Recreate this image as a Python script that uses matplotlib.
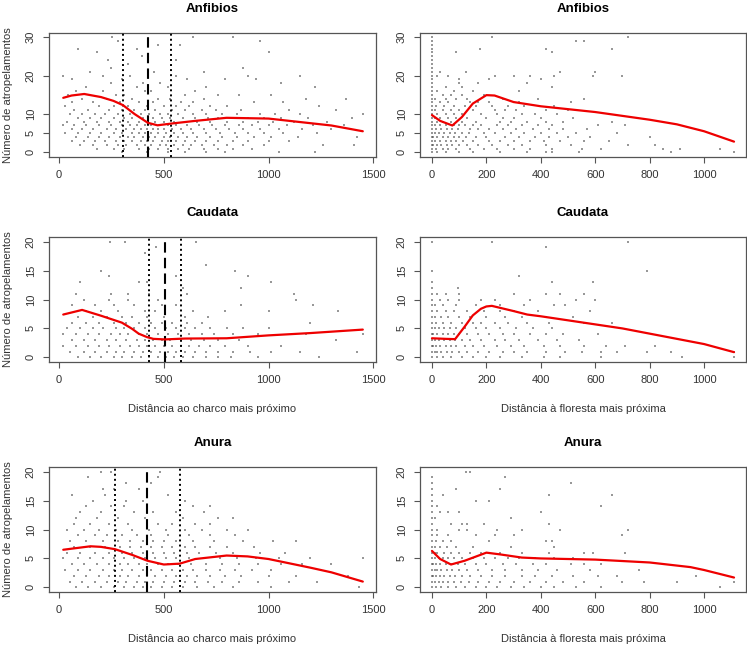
import matplotlib
matplotlib.use("Agg")
import matplotlib.pyplot as plt

plt.rcParams['font.family'] = ['Liberation Sans', 'DejaVu Sans']

# ---------------- data ----------------
titles = ["Anfibios", "Caudata", "Anura"]
xlabel_left = "Distância ao charco mais próximo"
xlabel_right = "Distância à floresta mais próxima"
ylabel = "Número de atropelamentos"

# scatter points grouped by count (y): list of x positions
pts_anf_charco = {
    30: [255, 640, 830], 29: [280, 960], 28: [470, 575], 27: [90, 370], 26: [180, 1000],
    25: [395], 24: [235, 560], 23: [330], 22: [250, 880], 21: [150, 455, 690],
    20: [20, 210, 340, 560, 900, 1150], 19: [60, 300, 610, 790, 940], 18: [250, 400, 480, 1060],
    17: [130, 370, 520, 700, 1220], 16: [80, 210, 410, 440, 650],
    15: [45, 270, 310, 600, 760, 860, 1010], 14: [110, 230, 350, 470, 530, 690, 1180, 1370],
    13: [60, 160, 290, 380, 450, 580, 640, 930, 1070],
    12: [30, 190, 260, 330, 420, 500, 560, 620, 720, 800, 1240],
    11: [70, 140, 240, 300, 360, 410, 460, 540, 600, 680, 750, 870, 1100, 1320],
    10: [50, 110, 170, 220, 280, 340, 390, 430, 480, 520, 570, 640, 700, 780, 850, 960, 1030, 1150, 1450],
    9: [90, 150, 200, 260, 310, 350, 400, 450, 490, 530, 590, 650, 710, 760, 830, 900, 980, 1060, 1190, 1400],
    8: [40, 120, 180, 240, 290, 330, 380, 420, 460, 500, 550, 600, 660, 720, 800, 880, 950, 1020, 1120, 1280],
    7: [20, 70, 130, 190, 250, 300, 340, 370, 410, 440, 480, 520, 560, 610, 670, 730, 790, 860, 920, 1000, 1090, 1210, 1360],
    6: [60, 110, 160, 230, 270, 320, 360, 390, 420, 450, 470, 500, 540, 580, 630, 690, 750, 810, 880, 960, 1050, 1160, 1300],
    5: [30, 90, 150, 200, 260, 300, 350, 380, 410, 440, 470, 510, 550, 590, 640, 700, 770, 840, 900, 980, 1070, 1230],
    4: [80, 140, 190, 240, 290, 330, 360, 400, 430, 460, 500, 530, 570, 610, 660, 720, 780, 850, 930, 1010, 1140, 1420],
    3: [60, 120, 170, 220, 270, 310, 350, 390, 420, 450, 490, 520, 560, 600, 650, 700, 760, 830, 900, 1000, 1100],
    2: [100, 160, 230, 280, 320, 370, 410, 440, 480, 510, 550, 590, 630, 680, 740, 800, 880, 980, 1260, 1410],
    1: [180, 260, 310, 380, 430, 470, 520, 570, 620, 690, 760, 830, 920],
    0: [300, 420, 520, 600, 700, 790, 1050, 1220],
}
pts_anf_floresta = {
    30: [0, 220, 720], 29: [0, 530, 560], 28: [0], 27: [0, 175, 420, 660], 26: [0, 90, 440],
    25: [0], 24: [0], 23: [0], 22: [0], 21: [0, 30, 125, 470, 600],
    20: [0, 20, 60, 230, 300, 360, 450, 590, 700], 19: [0, 100, 210, 400], 18: [0, 100, 170, 350],
    17: [0, 50, 110, 440], 16: [0, 20, 80, 150, 320], 15: [0, 40, 70, 110, 190],
    14: [0, 10, 50, 90, 130, 260, 390, 560], 13: [0, 30, 60, 140, 170, 210, 320, 510],
    12: [0, 15, 45, 80, 120, 160, 220, 280, 340, 450],
    11: [0, 10, 40, 70, 100, 150, 230, 270, 310, 420, 500],
    10: [0, 20, 50, 80, 110, 180, 240, 330, 380, 460],
    9: [0, 10, 30, 60, 90, 130, 200, 260, 300, 400, 520],
    8: [0, 20, 40, 70, 110, 160, 250, 290, 350, 420, 480, 660],
    7: [0, 10, 30, 50, 80, 100, 120, 150, 180, 240, 280, 330, 390, 440, 610, 710],
    6: [0, 15, 35, 55, 75, 95, 140, 170, 210, 260, 310, 370, 430, 480, 570],
    5: [0, 10, 25, 45, 65, 85, 110, 135, 190, 230, 290, 340, 400, 460, 530, 680],
    4: [0, 5, 20, 40, 60, 80, 100, 125, 160, 200, 270, 320, 380, 430, 500, 580, 800],
    3: [0, 10, 30, 50, 70, 90, 115, 150, 210, 250, 300, 360, 410, 470, 560, 650],
    2: [0, 5, 20, 35, 55, 75, 100, 130, 170, 220, 280, 330, 420, 510, 720, 820],
    1: [0, 15, 40, 60, 90, 140, 190, 240, 300, 360, 440, 550, 620, 850, 910, 1060],
    0: [0, 20, 50, 100, 150, 250, 350, 420, 440, 540, 880, 1110],
}
pts_cau_charco = {
    20: [245, 315, 655], 19: [465], 18: [410], 16: [700], 15: [200, 840], 14: [240, 560, 900],
    13: [100, 380, 420, 1010], 12: [590, 870], 11: [80, 250, 330, 430, 610, 1120],
    10: [120, 240, 330, 470, 1130], 9: [60, 170, 260, 360, 490, 560, 870, 1210],
    8: [130, 200, 280, 410, 460, 640, 790, 1000, 1330],
    7: [90, 160, 230, 300, 350, 420, 500, 600, 710],
    6: [60, 130, 190, 260, 320, 380, 440, 490, 540, 610, 680, 1200],
    5: [40, 100, 160, 210, 270, 310, 360, 410, 460, 510, 560, 600, 650, 720, 800, 880, 1000],
    4: [20, 80, 140, 190, 250, 290, 330, 380, 420, 470, 520, 570, 620, 680, 740, 830, 950, 1180, 1450],
    3: [60, 120, 170, 230, 270, 320, 370, 410, 450, 490, 530, 580, 630, 690, 760, 860, 1320],
    2: [20, 80, 140, 190, 240, 290, 340, 380, 420, 460, 500, 540, 580, 620, 670, 720, 790, 900, 1060],
    1: [50, 120, 170, 230, 270, 310, 360, 400, 440, 480, 520, 560, 600, 650, 700, 760, 830, 910, 1010, 1150, 1420],
    0: [90, 150, 200, 260, 300, 350, 390, 430, 470, 510, 550, 590, 640, 700, 760, 820, 950, 1240],
}
pts_cau_floresta = {
    20: [0, 220, 720], 19: [420], 15: [0, 790], 14: [320], 13: [0, 440, 590], 12: [0, 95],
    11: [0, 20, 50, 100, 300, 420, 470, 560],
    10: [0, 30, 60, 100, 180, 230, 360, 530, 600],
    9: [0, 10, 40, 90, 160, 250, 340, 450, 490],
    8: [0, 20, 50, 80, 130, 190, 250, 300, 390, 580],
    7: [0, 10, 35, 60, 100, 140, 200, 270, 330, 420, 520],
    6: [0, 15, 40, 70, 110, 150, 180, 230, 280, 350, 430, 560, 660],
    5: [0, 10, 25, 45, 65, 90, 120, 160, 200, 250, 310, 370, 440],
    4: [0, 5, 20, 40, 60, 80, 100, 130, 170, 210, 260, 300, 360, 420, 480, 610],
    3: [0, 10, 25, 45, 65, 85, 110, 140, 180, 230, 270, 320, 390, 460, 540],
    2: [0, 5, 15, 30, 50, 70, 90, 120, 150, 190, 240, 290, 340, 410, 470, 560, 640, 710, 820],
    1: [0, 10, 20, 35, 55, 75, 100, 130, 170, 210, 260, 300, 350, 420, 490, 550, 620, 680, 790, 880, 1110],
    0: [0, 20, 40, 70, 110, 150, 200, 250, 330, 410, 470, 620, 920, 1110],
}
pts_anu_charco = {
    20: [200, 250, 480], 19: [140, 470], 18: [320, 440], 17: [210, 260, 380],
    16: [60, 220, 420, 520], 15: [160, 320, 400, 600], 14: [130, 250, 310, 640, 720],
    13: [100, 200, 360, 450, 560, 690], 12: [80, 180, 280, 410, 590, 760, 830],
    11: [70, 150, 240, 330, 470, 540, 650, 720],
    10: [40, 120, 190, 270, 350, 430, 510, 600, 680, 800, 900],
    9: [90, 170, 230, 300, 370, 440, 520, 620, 720, 840],
    8: [50, 130, 210, 280, 340, 400, 450, 500, 560, 640, 740, 880, 1020, 1130],
    7: [70, 150, 220, 290, 340, 390, 440, 490, 540, 600, 650, 720, 800, 930],
    6: [40, 100, 170, 240, 300, 350, 400, 450, 500, 550, 610, 670, 750, 830, 960, 1080],
    5: [20, 90, 150, 210, 260, 310, 360, 410, 460, 510, 560, 620, 690, 770, 850, 940, 1050, 1200, 1450],
    4: [60, 120, 180, 240, 290, 330, 380, 420, 470, 520, 570, 630, 700, 780, 860, 950, 1060, 1160, 1300],
    3: [30, 90, 150, 210, 260, 300, 350, 400, 440, 490, 540, 590, 640, 700, 770, 840, 920, 1010, 1250],
    2: [70, 130, 190, 240, 290, 330, 380, 420, 460, 510, 560, 610, 660, 720, 790, 870, 1000, 1130, 1380],
    1: [50, 110, 170, 230, 280, 320, 370, 410, 450, 500, 550, 600, 650, 710, 780, 860, 950, 1100, 1230],
    0: [80, 140, 200, 260, 310, 360, 400, 440, 490, 540, 590, 660, 740, 830, 1010, 1430],
}
pts_anu_floresta = {
    20: [125, 140], 19: [0, 270], 18: [0, 510], 17: [0, 90, 250], 16: [0, 40, 430, 660],
    15: [0, 160, 210], 14: [0, 20, 620], 13: [0, 30, 60, 100, 400], 12: [0, 10, 290],
    11: [0, 70, 110, 130, 190, 430], 10: [0, 20, 100, 130, 240, 330, 470, 720],
    9: [0, 20, 60, 160, 230, 300, 700], 8: [0, 15, 40, 70, 210, 420, 440],
    7: [0, 10, 30, 55, 90, 150, 290, 450],
    6: [0, 10, 20, 45, 70, 100, 140, 180, 250, 330, 430, 560, 590, 710],
    5: [0, 10, 25, 40, 60, 80, 110, 150, 190, 230, 280, 320, 380, 450, 520],
    4: [0, 5, 15, 30, 50, 70, 95, 120, 160, 200, 260, 310, 370, 420, 510, 560, 620],
    3: [0, 10, 20, 35, 55, 75, 100, 130, 170, 220, 270, 330, 390, 460, 580, 760],
    2: [0, 5, 15, 30, 45, 65, 85, 110, 140, 180, 220, 270, 330, 380, 440, 520, 610, 680, 970],
    1: [0, 10, 25, 40, 60, 80, 105, 135, 170, 210, 250, 300, 360, 420, 480, 560, 700, 780, 900, 1110],
    0: [0, 15, 35, 60, 90, 120, 160, 200, 240, 290, 340, 400, 450, 530, 620, 1060],
}

# smoothed fits (red lines)
fit_anf_charco_x = [20, 60, 120, 200, 260, 305, 360, 424, 470, 536, 650, 800, 1000, 1150, 1300, 1450]
fit_anf_charco_y = [14.2, 14.8, 15.2, 14.4, 13.4, 12.3, 10.0, 7.7, 7.05, 7.5, 8.2, 9.0, 8.8, 7.9, 7.0, 5.5]
fit_anf_floresta_x = [0, 30, 75, 110, 150, 200, 230, 300, 400, 600, 800, 900, 1000, 1110]
fit_anf_floresta_y = [9.7, 8.2, 7.0, 9.2, 12.7, 14.9, 14.8, 13.1, 12.0, 10.5, 8.5, 7.3, 5.5, 2.8]
fit_cau_charco_x = [20, 110, 200, 300, 350, 380, 420, 450, 505, 600, 800, 1000, 1200, 1450]
fit_cau_charco_y = [7.4, 8.2, 7.2, 6.0, 4.9, 4.1, 3.5, 3.2, 3.1, 3.25, 3.3, 3.8, 4.2, 4.8]
fit_cau_floresta_x = [0, 50, 85, 120, 150, 180, 200, 220, 300, 350, 400, 600, 700, 800, 1000, 1110]
fit_cau_floresta_y = [3.3, 3.2, 3.15, 5.3, 7.25, 8.4, 8.8, 8.9, 8.0, 7.4, 7.1, 5.7, 5.0, 4.1, 2.3, 0.9]
fit_anu_charco_x = [20, 150, 200, 267, 350, 422, 500, 576, 650, 800, 900, 1000, 1200, 1300, 1450]
fit_anu_charco_y = [6.5, 7.1, 7.0, 6.6, 5.6, 4.6, 3.95, 4.1, 4.9, 5.5, 5.35, 4.9, 3.4, 2.6, 1.0]
fit_anu_floresta_x = [0, 30, 70, 120, 200, 250, 330, 400, 600, 800, 950, 1000, 1110]
fit_anu_floresta_y = [6.3, 4.9, 3.95, 4.6, 6.0, 5.7, 5.15, 5.0, 4.8, 4.3, 3.5, 3.0, 1.7]

# threshold lines on left panels: (lower CI, estimate, upper CI)
thr_anf = [305, 424, 536]
thr_cau = [430, 505, 581]
thr_anu = [267, 422, 576]

xticks_left = [0, 500, 1000, 1500]
xticks_right = [0, 200, 400, 600, 800, 1000]
yticks_top = [0, 5, 10, 20, 30]
yticks_other = [0, 5, 10, 15, 20]

# ---------------- figure ----------------
W, H = 747, 648
fig = plt.figure(figsize=(W / 100, H / 100), dpi=100)

def ax_at(left, top, right, bottom):
    return fig.add_axes([left / W, 1 - bottom / H, (right - left) / W, (bottom - top) / H])

rows_px = [(32.5, 157), (237, 362), (467, 592)]
cols_px = [(49, 376), (420, 746)]

panels = [
    (pts_anf_charco, fit_anf_charco_x, fit_anf_charco_y, thr_anf, yticks_top, (-1.2, 31.2)),
    (pts_anf_floresta, fit_anf_floresta_x, fit_anf_floresta_y, None, yticks_top, (-1.2, 31.2)),
    (pts_cau_charco, fit_cau_charco_x, fit_cau_charco_y, thr_cau, yticks_other, (-0.8, 20.8)),
    (pts_cau_floresta, fit_cau_floresta_x, fit_cau_floresta_y, None, yticks_other, (-0.8, 20.8)),
    (pts_anu_charco, fit_anu_charco_x, fit_anu_charco_y, thr_anu, yticks_other, (-0.8, 20.8)),
    (pts_anu_floresta, fit_anu_floresta_x, fit_anu_floresta_y, None, yticks_other, (-0.8, 20.8)),
]

tick_col = '#333333'
fs_tick = 8
fs_lab = 8
fs_title = 9.5

for i, (pts, fx, fy, thr, yt, ylim) in enumerate(panels):
    r, c = divmod(i, 2)
    top, bot = rows_px[r]
    left, right = cols_px[c]
    ax = ax_at(left, top, right, bot)
    xs, ys = [], []
    for yv, xl in pts.items():
        xs.extend(xl)
        ys.extend([yv] * len(xl))
    ax.scatter(xs, ys, s=0.9, c='#444444', marker='s', linewidths=0, alpha=0.55, zorder=2)
    if thr is not None:
        ax.axvline(thr[0], color='black', lw=1.4, ls=(0, (1, 1.6)), zorder=3)
        ax.axvline(thr[1], color='black', lw=1.5, ls=(0, (5, 2.5)), zorder=3)
        ax.axvline(thr[2], color='black', lw=1.4, ls=(0, (1, 1.6)), zorder=3)
    ax.plot(fx, fy, color='#ee0000', lw=1.6, zorder=4, solid_capstyle='round',
            solid_joinstyle='round')
    if c == 0:
        ax.set_xlim(-48, 1513)
        ax.set_xticks(xticks_left)
    else:
        ax.set_xlim(-44, 1154)
        ax.set_xticks(xticks_right)
    ax.set_ylim(*ylim)
    ax.set_yticks(yt)
    ax.set_yticklabels([str(v) for v in yt], rotation=90, va='center')
    ax.tick_params(axis='both', direction='out', length=4.5, width=0.8, colors='#555555',
                   labelcolor=tick_col, labelsize=fs_tick, pad=5)
    for sp in ax.spines.values():
        sp.set_color('#555555')
        sp.set_linewidth(0.9)
    # title
    fig.text(((left + right) / 2) / W, 1 - (top - 24) / H, titles[r], ha='center', va='center',
             fontsize=fs_title, fontweight='bold', color='black')
    if r > 0:
        fig.text(((left + right) / 2) / W, 1 - (bot + 46.5) / H,
                 xlabel_left if c == 0 else xlabel_right,
                 ha='center', va='center', fontsize=fs_lab, color=tick_col)
    if c == 0:
        fig.text(8.5 / W, 1 - ((top + bot) / 2) / H, ylabel, rotation=90,
                 ha='center', va='center', fontsize=fs_lab, color=tick_col)

fig.savefig('out.png', dpi=100)
